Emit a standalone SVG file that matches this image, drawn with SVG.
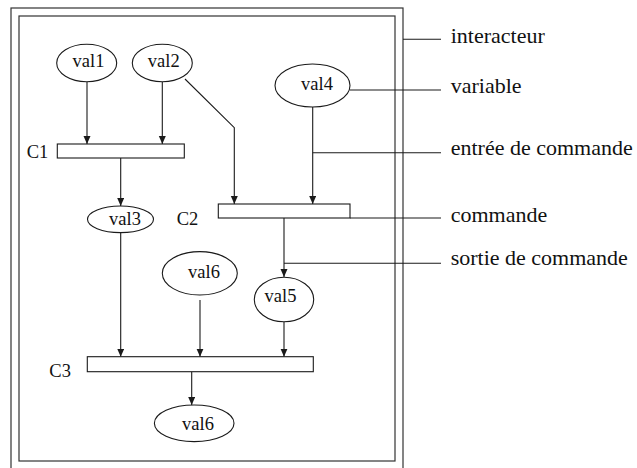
<svg xmlns="http://www.w3.org/2000/svg" width="637" height="468" viewBox="0 0 637 468">
<defs>
<marker id="arr" markerWidth="8" markerHeight="8" refX="8" refY="3.5" orient="auto" markerUnits="userSpaceOnUse">
<path d="M0,0 L8,3.5 L0,7 z" fill="#1a1a1a"/>
</marker>
<style>
.box{fill:none;stroke:#333;stroke-width:1.2}
.node{fill:#fff;stroke:#1a1a1a;stroke-width:1.1}
.ln{fill:none;stroke:#1a1a1a;stroke-width:1.1}
.a{marker-end:url(#arr)}
.t{font-family:"Liberation Serif","Times New Roman",serif;font-size:18.5px;fill:#111}
.tm{text-anchor:middle}
.lb{font-family:"Liberation Serif","Times New Roman",serif;font-size:22px;fill:#111}
</style>
</defs>
<rect width="637" height="468" fill="#fff"/>
<g id="interacteur">
<rect class="box" x="11" y="8" width="392" height="470"/>
<rect class="box" x="19" y="16" width="376" height="445"/>
</g>
<g id="connectors">
<line class="ln a" x1="87" y1="82" x2="87" y2="144"/>
<line class="ln a" x1="162.3" y1="82" x2="162.3" y2="144"/>
<polyline class="ln a" points="185,79 234.3,127.7 234.3,204"/>
<line class="ln a" x1="312.7" y1="107" x2="312.7" y2="204"/>
<line class="ln a" x1="120.7" y1="158" x2="120.7" y2="206"/>
<line class="ln a" x1="284" y1="218" x2="284" y2="277"/>
<line class="ln a" x1="120.7" y1="232.5" x2="120.7" y2="356.7"/>
<line class="ln a" x1="200" y1="300" x2="200" y2="356.7"/>
<line class="ln a" x1="284" y1="322" x2="284" y2="356.7"/>
<line class="ln a" x1="191.7" y1="371.7" x2="191.7" y2="405"/>
<line class="ln" x1="403" y1="39.3" x2="441" y2="39.3"/>
<line class="ln" x1="350" y1="90" x2="441" y2="90"/>
<line class="ln" x1="312.7" y1="152.7" x2="441" y2="152.7"/>
<line class="ln" x1="350" y1="218" x2="441" y2="218"/>
<line class="ln" x1="284" y1="263.3" x2="441" y2="263.3"/>
</g>
<g id="val1">
<ellipse class="node" cx="86.7" cy="63" rx="30" ry="18.7"/>
<text class="t tm" x="88.5" y="67">val1</text>
</g>
<g id="val2">
<ellipse class="node" cx="162.3" cy="63" rx="30" ry="18.7"/>
<text class="t tm" x="163.8" y="67">val2</text>
</g>
<g id="val4">
<ellipse class="node" cx="312.5" cy="85.5" rx="37.5" ry="21.5"/>
<text class="t tm" x="317" y="89.5">val4</text>
</g>
<g id="C1">
<rect class="node" x="57.3" y="144" width="127" height="14"/>
<text class="t" x="26.7" y="158.3">C1</text>
</g>
<g id="val3">
<ellipse class="node" cx="120.5" cy="219.3" rx="33" ry="13.3"/>
<text class="t tm" x="125" y="225">val3</text>
</g>
<g id="C2">
<rect class="node" x="218.3" y="204" width="131.7" height="14"/>
<text class="t" x="176.7" y="225">C2</text>
</g>
<g id="val6a">
<ellipse class="node" cx="199.8" cy="273.3" rx="37.5" ry="21.7"/>
<text class="t tm" x="204" y="277.7">val6</text>
</g>
<g id="val5">
<ellipse class="node" cx="284" cy="299.5" rx="29.7" ry="22.3"/>
<text class="t tm" x="280.5" y="301.7">val5</text>
</g>
<g id="C3">
<rect class="node" x="87.3" y="356.7" width="226" height="15"/>
<text class="t" x="49.3" y="376.7">C3</text>
</g>
<g id="val6b">
<ellipse class="node" cx="194.2" cy="423.3" rx="39.8" ry="18.3"/>
<text class="t tm" x="198" y="430">val6</text>
</g>
<g id="labels">
<text class="lb" x="450.7" y="42.5">interacteur</text>
<text class="lb" x="450.7" y="92.7">variable</text>
<text class="lb" x="450.7" y="155">entrée de commande</text>
<text class="lb" x="450.7" y="221.7">commande</text>
<text class="lb" x="450.7" y="265">sortie de commande</text>
</g>
</svg>
